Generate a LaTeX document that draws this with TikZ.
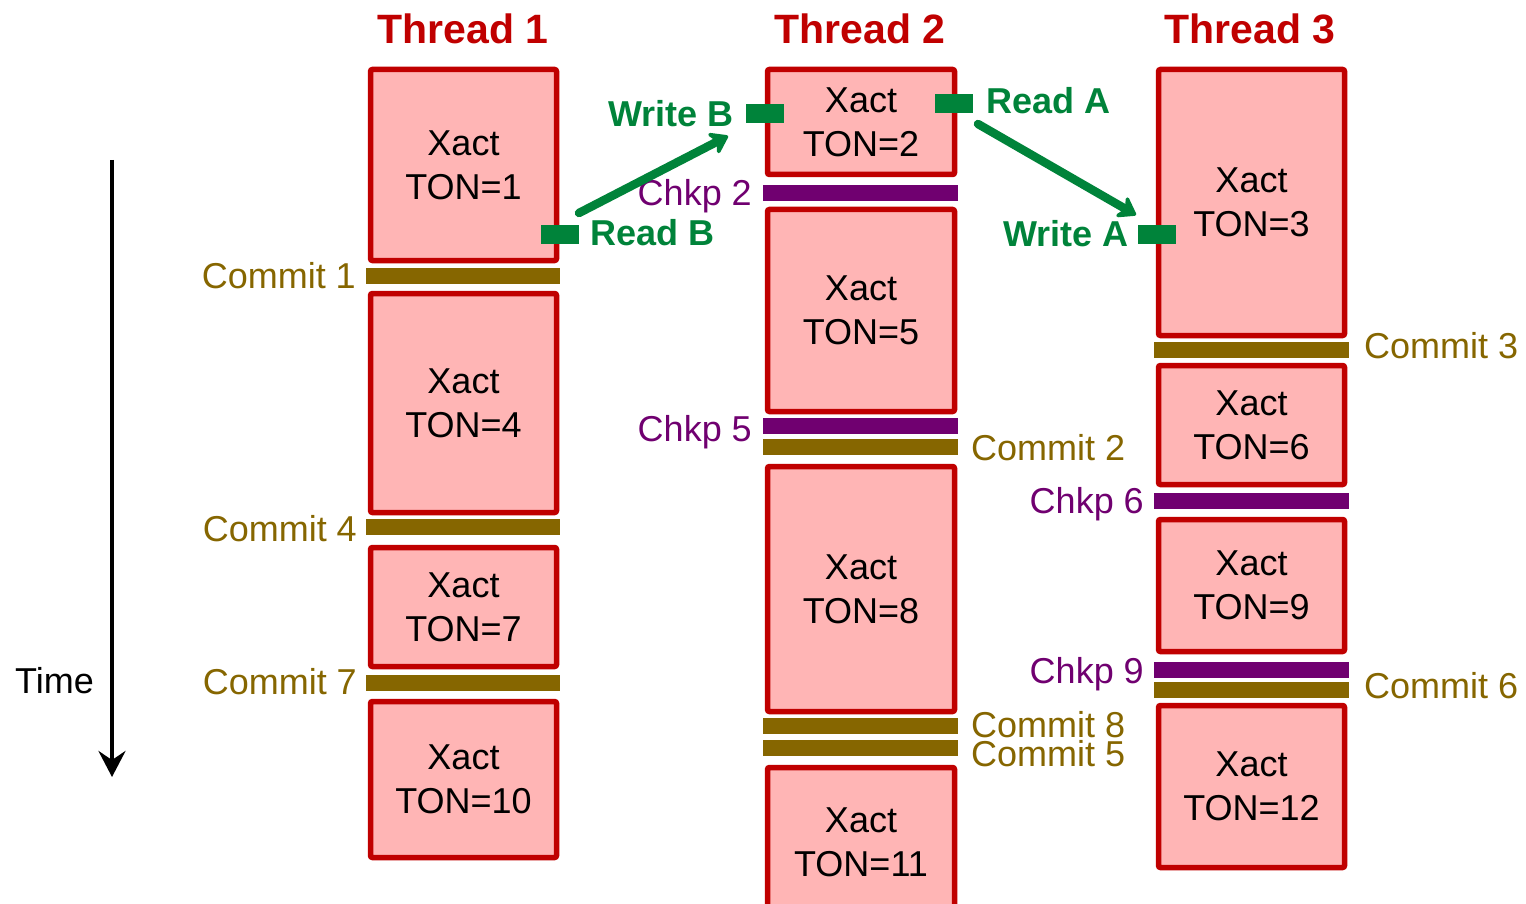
\documentclass[tikz,border=0pt]{standalone}
\usepackage{fontspec}
\setmainfont{Liberation Sans}
\usetikzlibrary{arrows.meta}
\definecolor{boxfill}{HTML}{FFB5B5}
\definecolor{boxline}{HTML}{C00000}
\definecolor{commitc}{HTML}{866600}
\definecolor{chkpc}{HTML}{700070}
\definecolor{greenc}{HTML}{00833A}
\begin{document}
\begin{tikzpicture}[x=1pt,y=-1pt,
  xbox/.style={draw=boxline, fill=boxfill, line width=5.5pt, rounded corners=2pt,
    align=center, inner sep=0pt, font=\fontsize{36}{44}\selectfont},
  cbar/.style={fill=commitc, inner sep=0pt, minimum height=16pt},
  kbar/.style={fill=chkpc, inner sep=0pt, minimum height=16pt},
  clab/.style={text=commitc, inner sep=0pt, font=\fontsize{36}{43}\selectfont},
  klab/.style={text=chkpc, inner sep=0pt, font=\fontsize{36}{43}\selectfont},
  glab/.style={text=greenc, inner sep=0pt, font=\bfseries\fontsize{36}{43}\selectfont},
  gmarker/.style={fill=greenc, inner sep=0pt, minimum width=38pt, minimum height=19pt},
  ttl/.style={text=boxline, inner sep=0pt, font=\bfseries\fontsize{41}{48}\selectfont},
  garrow/.style={draw=greenc, line width=8.5pt, line cap=round,
    -{Stealth[length=21pt,width=29pt,inset=7pt,round]}},
]
\clip (0,0) rectangle (1526,904);
\useasboundingbox (0,0) rectangle (1526,904);

% titles
\node[ttl, anchor=base] (t1) at (463,44) {Thread 1};
\node[ttl, anchor=base] (t2) at (860,44) {Thread 2};
\node[ttl, anchor=base] (t3) at (1250,44) {Thread 3};

% thread 1
\node[xbox, minimum width=186pt, minimum height=191pt] (b1) at (463.5,165) {Xact\\TON=1};
\node[cbar, minimum width=194pt] (c1) at (463,276) {};
\node[xbox, minimum width=186pt, minimum height=219pt] (b4) at (463.5,403) {Xact\\TON=4};
\node[cbar, minimum width=194pt] (c4) at (463,527) {};
\node[xbox, minimum width=186pt, minimum height=119pt] (b7) at (463.5,607) {Xact\\TON=7};
\node[cbar, minimum width=194pt] (c7) at (463,683) {};
\node[xbox, minimum width=186pt, minimum height=156pt] (b10) at (463.5,779.5) {Xact\\TON=10};

% thread 2
\node[xbox, minimum width=187pt, minimum height=105pt] (b2) at (861,122) {Xact\\TON=2};
\node[kbar, minimum width=195pt] (k2) at (860.5,193) {};
\node[xbox, minimum width=187pt, minimum height=202pt] (b5) at (861,310.5) {Xact\\TON=5};
\node[kbar, minimum width=195pt] (k5) at (860.5,426) {};
\node[cbar, minimum width=195pt] (c2) at (860.5,447) {};
\node[xbox, minimum width=187pt, minimum height=245pt] (b8) at (861,589) {Xact\\TON=8};
\node[cbar, minimum width=195pt] (c8) at (860.5,726) {};
\node[cbar, minimum width=195pt] (c5) at (860.5,748) {};
\node[xbox, minimum width=187pt, minimum height=150pt] (b11) at (861,842.5) {Xact\\TON=11};

% thread 3
\node[xbox, minimum width=186pt, minimum height=266pt] (b3) at (1251.5,202.5) {Xact\\TON=3};
\node[cbar, minimum width=195pt] (c3) at (1251.5,349.5) {};
\node[xbox, minimum width=186pt, minimum height=119pt] (b6) at (1251.5,425) {Xact\\TON=6};
\node[kbar, minimum width=195pt] (k6) at (1251.5,501) {};
\node[xbox, minimum width=186pt, minimum height=132pt] (b9) at (1251.5,585.5) {Xact\\TON=9};
\node[kbar, minimum width=195pt] (k9) at (1251.5,669.5) {};
\node[cbar, minimum width=195pt] (c6) at (1251.5,689.5) {};
\node[xbox, minimum width=186pt, minimum height=162pt] (b12) at (1251.5,786.5) {Xact\\TON=12};

% labels
\node[clab, anchor=base east] (lc1) at (356,288) {Commit 1};
\node[clab, anchor=base east] (lc4) at (357,541) {Commit 4};
\node[clab, anchor=base east] (lc7) at (357,694) {Commit 7};
\node[klab, anchor=base east] (lk2) at (752,206) {Chkp 2};
\node[klab, anchor=base east] (lk5) at (752,441) {Chkp 5};
\node[clab, anchor=base west] (lc2) at (971,460) {Commit 2};
\node[clab, anchor=base west] (lc8) at (971,737) {Commit 8};
\node[clab, anchor=base west] (lc5) at (971,766) {Commit 5};
\node[klab, anchor=base east] (lk6) at (1144,513) {Chkp 6};
\node[klab, anchor=base east] (lk9) at (1144,683) {Chkp 9};
\node[clab, anchor=base west] (lc3) at (1364,358) {Commit 3};
\node[clab, anchor=base west] (lc6) at (1364,698) {Commit 6};

% read / write markers
\node[gmarker] (mwb) at (765,113.5) {};
\node[gmarker] (mrb) at (560,234.5) {};
\node[gmarker] (mra) at (954,104) {};
\node[gmarker] (mwa) at (1157,234.5) {};
\node[glab, anchor=base east] (lwb) at (734,127) {Write B};
\node[glab, anchor=base west] (lrb) at (590,245) {Read B};
\node[glab, anchor=base west] (lra) at (986,114) {Read A};
\node[glab, anchor=base east] (lwa) at (1129,247) {Write A};

% arrows
\coordinate (bs) at (579,213);
\coordinate (be) at (728,136);
\draw[garrow] (bs) -- (be);
\coordinate (as) at (978,124);
\coordinate (ae) at (1136,215);
\draw[garrow] (as) -- (ae);

% time axis
\node[inner sep=0pt, anchor=base west, font=\fontsize{36}{43}\selectfont] (time) at (15,693) {Time};
\coordinate (ts) at (112,160);
\coordinate (te) at (112,777);
\draw[line width=4pt, -{Stealth[length=26pt,width=27pt,inset=9pt]}] (ts) -- (te);
\end{tikzpicture}
\end{document}
